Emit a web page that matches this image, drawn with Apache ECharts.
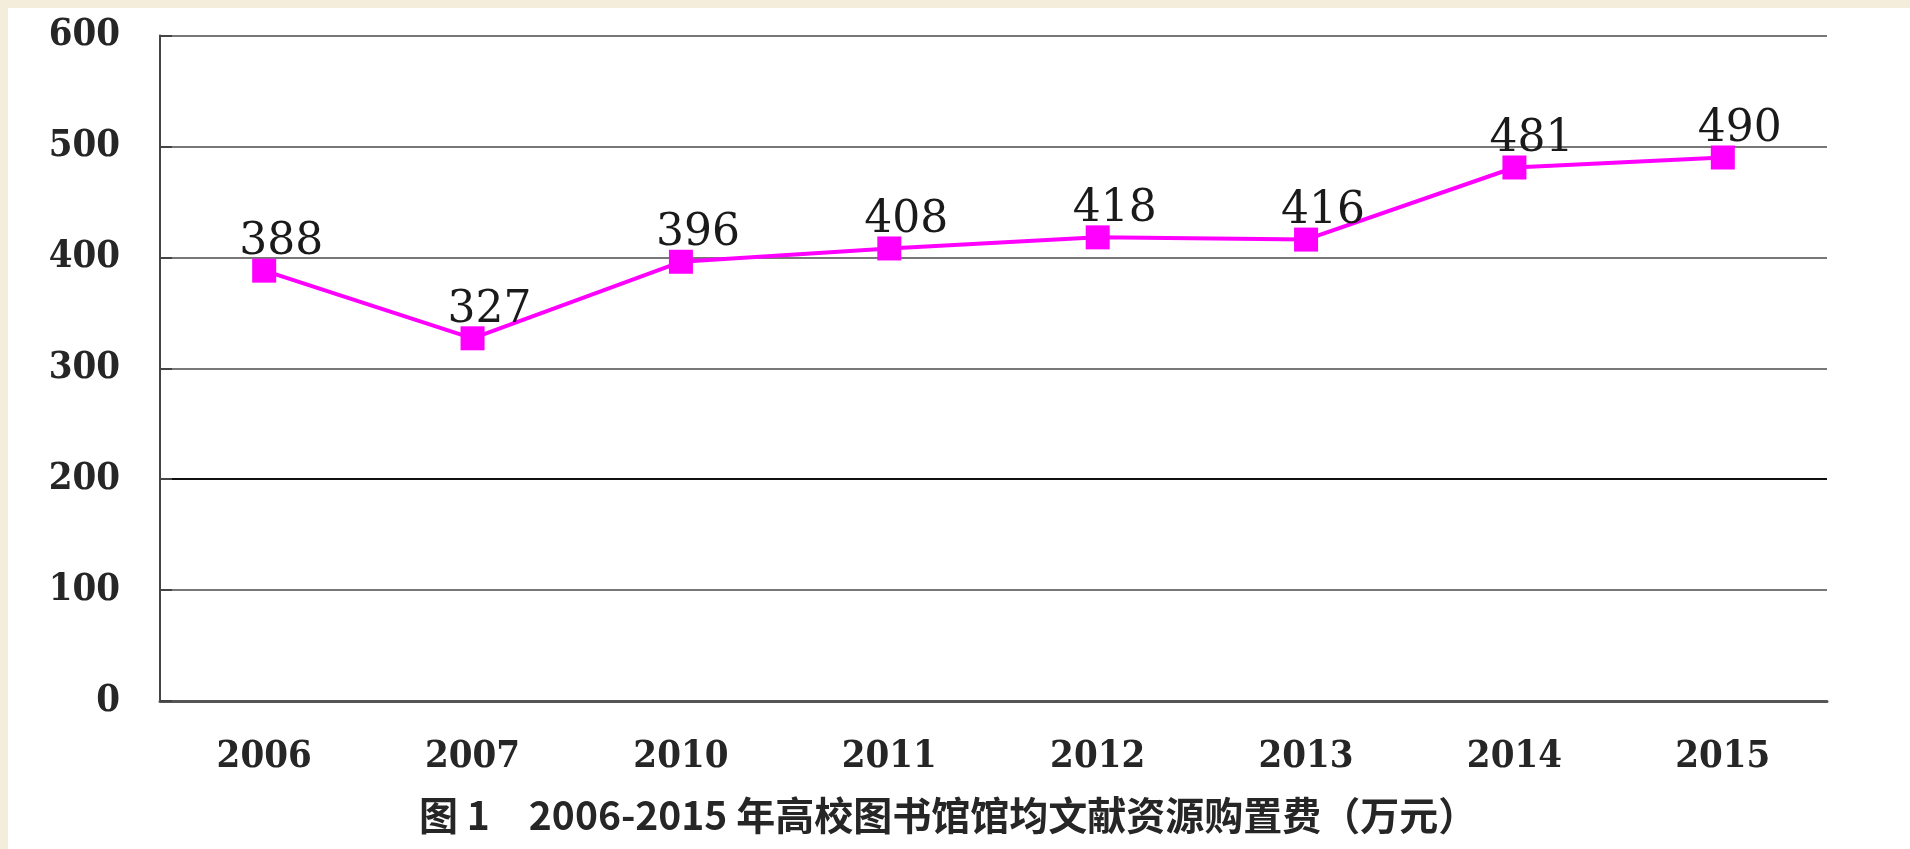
<!DOCTYPE html>
<html>
<head>
<meta charset="utf-8">
<title>2006-2015 年高校图书馆馆均文献资源购置费</title>
<script src="https://cdn.jsdelivr.net/npm/echarts@6/dist/echarts.min.js"></script>
<style>
  html, body { margin: 0; padding: 0; background: #f5eddc; }
  #main { position: absolute; left: 8px; top: 8px; width: 1902px; height: 841px; background: #fff; }
</style>
</head>
<body>
<div id="main"></div>
<script>
var years = ["2006", "2007", "2010", "2011", "2012", "2013", "2014", "2015"];
var spending = [388, 327, 396, 408, 418, 416, 481, 490];
var yTicks = [0, 100, 200, 300, 400, 500, 600];
var caption = "图 1　2006-2015 年高校图书馆馆均文献资源购置费（万元）";

var axisFont = "'DejaVu Serif Condensed', 'DejaVu Serif', serif";

var chartDom = document.getElementById("main");
var myChart = echarts.init(chartDom);
var option = {
  animation: false,
  title: {
    text: caption,
    left: 406,
    top: 783,
    textStyle: {
      fontFamily: "'Noto Sans CJK SC', sans-serif",
      fontSize: 39,
      fontWeight: "bold",
      color: "#262626",
    },
  },
  grid: {
    left: 152,
    top: 27.5,
    width: 1667,
    height: 665.5,
  },
  xAxis: {
    type: "category",
    data: years,
    boundaryGap: true,
    axisLine: { lineStyle: { color: "#555", width: 3 } },
    axisTick: { inside: true, length: 12, lineStyle: { color: "#333", width: 2 } },
    axisLabel: {
      margin: 37,
      fontFamily: axisFont,
      fontWeight: "bold",
      fontSize: 38,
      color: "#262626",
    },
  },
  yAxis: {
    type: "value",
    min: yTicks[0],
    max: yTicks[yTicks.length - 1],
    interval: 100,
    axisLine: { show: true, lineStyle: { color: "#444", width: 2 } },
    axisTick: { show: true, inside: true, length: 12, lineStyle: { color: "#444", width: 2 } },
    axisLabel: {
      margin: 40,
      fontFamily: axisFont,
      fontWeight: "bold",
      fontSize: 38,
      color: "#262626",
    },
    splitLine: {
      lineStyle: {
        color: ["#777", "#777", "#111", "#777", "#777", "#777", "#777"],
        width: 2,
      },
    },
  },
  series: [
    {
      type: "line",
      data: spending,
      symbol: "rect",
      symbolSize: 24,
      lineStyle: { color: "#ff00ff", width: 4 },
      itemStyle: { color: "#ff00ff" },
      label: {
        show: true,
        position: "top",
        distance: 0,
        offset: [17, 6],
        fontFamily: "'DejaVu Serif', serif",
        fontSize: 44,
        color: "#1a1a1a",
      },
    },
  ],
};
option && myChart.setOption(option);
</script>
</body>
</html>
